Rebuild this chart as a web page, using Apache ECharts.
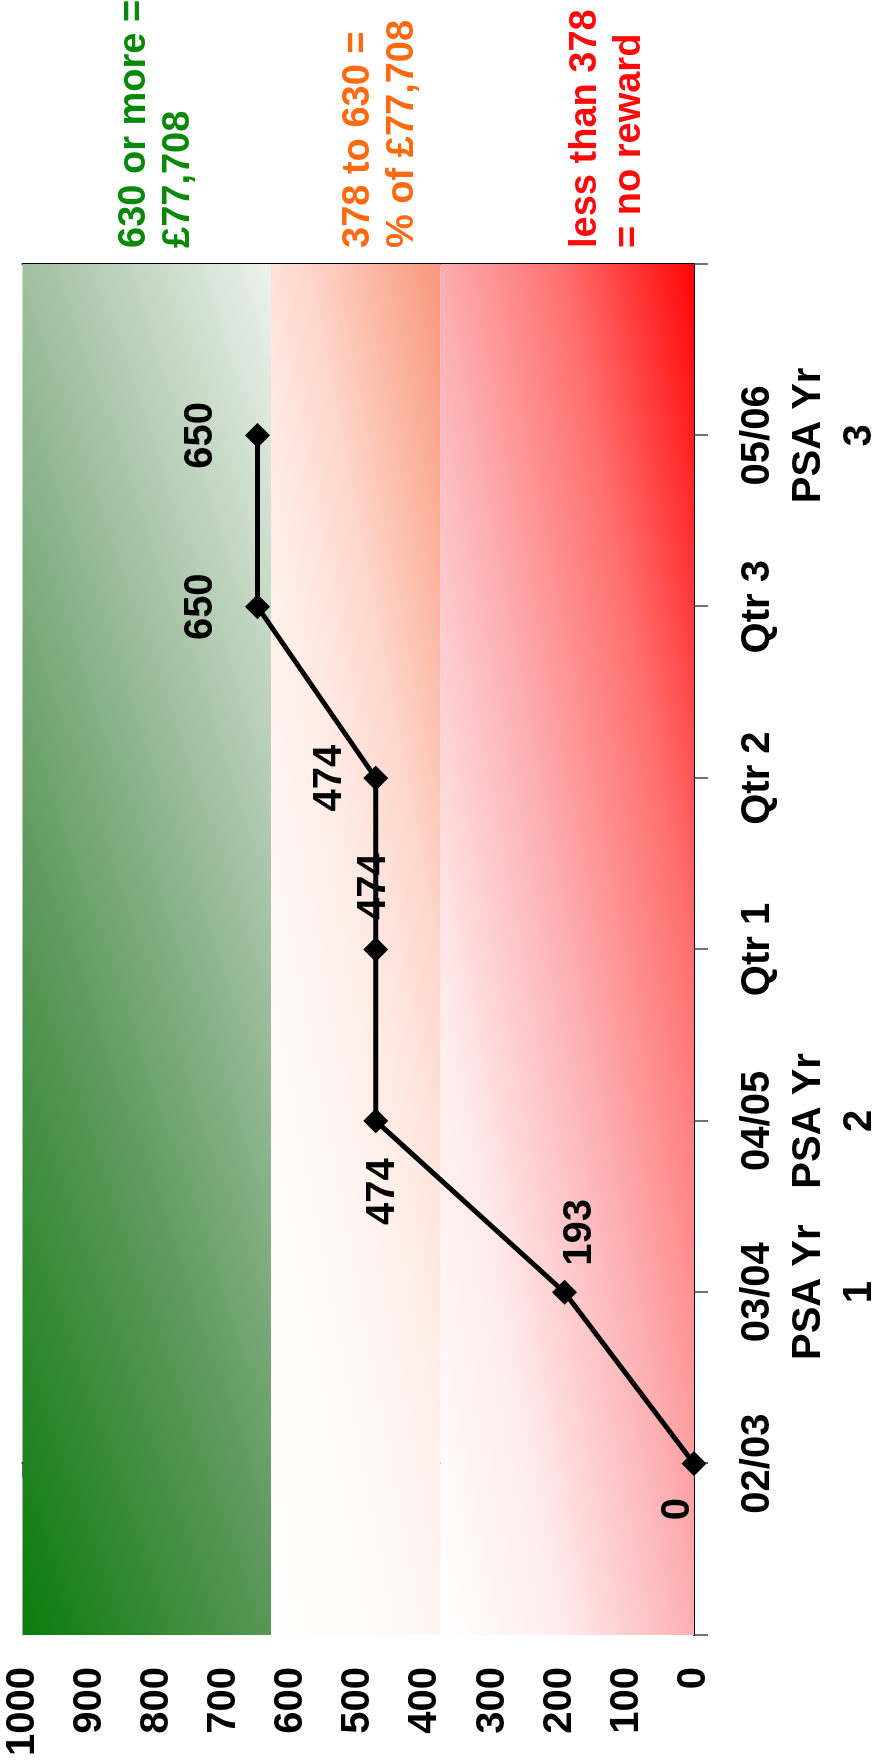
<!DOCTYPE html>
<html>
<head>
<meta charset="utf-8">
<script src="https://cdn.jsdelivr.net/npm/echarts@6/dist/echarts.min.js"></script>
<style>
  html, body { margin: 0; padding: 0; background: #fff; }
  #page { position: relative; width: 885px; height: 1764px; overflow: hidden; background: #fff; }
  #chart { position: absolute; left: 0; top: 0; width: 1764px; height: 885px;
           transform-origin: 0 0; transform: translate(0, 1764px) rotate(-90deg); }
</style>
</head>
<body>
<div id="page"><div id="chart"></div></div>
<script>
// ---- data ----
const categories = ['02/03', '03/04\nPSA Yr\n1', '04/05\nPSA Yr\n2', 'Qtr 1', 'Qtr 2', 'Qtr 3', '05/06\nPSA Yr\n3'];
const values = [0, 193, 474, 474, 474, 650, 650];
const thresholds = [0, 378, 630, 1000];
const notes = ['630 or more =\n£77,708', '378 to 630 =\n% of £77,708', 'less than 378\n= no reward'];

// ---- layout / style (chart drawn unrotated, then page-rotated) ----
const W = 1764, H = 885;
const G = { left: 129, right: 264, top: 22.5, bottom: 182.3 };
const plotW = W - G.left - G.right, plotH = H - G.top - G.bottom;
const FONT = '"Liberation Sans", Arial, sans-serif';
const noteColors = ['#0a880a', '#ff6a10', '#ff0a0a'];
const noteTop = [113, 337, 564];
const labelPlace = [
  { position: 'left', distance: 22, offset: [0, -16] },
  { position: 'right', distance: 14, offset: [0, 16] },
  { position: 'left', distance: 25, offset: [0, 7] },
  { position: 'right', distance: 17, offset: [0, -2] },
  { position: 'top', distance: 13 },
  { position: 'top', distance: 24 },
  { position: 'top', distance: 24 }
];

function diagGrad(a, b, w, h, stops) {
  const S = a * a / (w * w) + b * b / (h * h);
  return new echarts.graphic.LinearGradient(0, 0, a / (w * w * S), b / (h * h * S),
    stops.map(s => ({ offset: s[0], color: s[1] })));
}
const bandH = i => (thresholds[i + 1] - thresholds[i]) / 1000 * plotH;
const bandFills = [
  diagGrad(0.5, 0.5, plotW, bandH(0), [[0, '#ffffff'], [0.25, '#ffeaea'], [0.5, '#fdb0b3'], [0.75, '#ff7070'], [1, '#ff0a0a']]),
  diagGrad(0.6, 0.4, plotW, bandH(1), [[0, '#ffffff'], [0.35, '#fff8f5'], [0.55, '#ffeae3'], [0.7, '#fed6ca'], [0.85, '#fcb8a5'], [1, '#f99a80']]),
  diagGrad(0.65, 0.35, plotW, bandH(2), [[0, '#0b7b0b'], [0.38, '#5e995e'], [0.7, '#a8c4a8'], [1, '#e9f1e9']])
];

const chart = echarts.init(document.getElementById('chart'), null, { width: W, height: H });
chart.setOption({
  animation: false,
  backgroundColor: '#fff',
  grid: { left: G.left, right: G.right, top: G.top, bottom: G.bottom, containLabel: false },
  xAxis: {
    type: 'value', min: -1, max: categories.length, interval: 1,
    axisLine: { show: true, lineStyle: { color: '#000', width: 2 } },
    axisTick: { show: true, length: 14, lineStyle: { color: '#444', width: 1.5 } },
    splitLine: { show: false },
    axisLabel: {
      margin: 38, fontSize: 40, fontWeight: 'bold', fontFamily: FONT, color: '#000', lineHeight: 51,
      formatter: v => (categories[v] !== undefined ? categories[v] : '')
    }
  },
  yAxis: [{
    type: 'value', min: 0, max: 1000, interval: 100, position: 'left',
    axisLine: { show: true, lineStyle: { color: '#000', width: 2 } },
    axisTick: { show: true, length: 14, lineStyle: { color: '#444', width: 1.5 } },
    splitLine: { show: false },
    axisLabel: { margin: 32, fontSize: 40, fontWeight: 'bold', fontFamily: FONT, color: '#000',
                 formatter: v => String(v) }
  }, {
    type: 'value', min: 0, max: 1000, interval: 100, position: 'right',
    axisLine: { show: true, lineStyle: { color: '#000', width: 2 } },
    axisTick: { show: false }, axisLabel: { show: false }, splitLine: { show: false }
  }],
  graphic: notes.map((t, i) => ({
    type: 'text', x: 1516, y: noteTop[i], silent: true,
    style: { text: t, fill: noteColors[i], fontSize: 38, fontWeight: 'bold', fontFamily: FONT,
             lineHeight: 44, align: 'left', verticalAlign: 'top' }
  })),
  series: [{
    type: 'line', data: [], z: 1, silent: true,
    markArea: {
      silent: true, label: { show: false },
      data: bandFills.map((f, i) => [
        { yAxis: thresholds[i], itemStyle: { color: f, borderWidth: 0 } },
        { yAxis: thresholds[i + 1] }
      ])
    }
  }, {
    type: 'line', z: 5, clip: false,
    data: values.map((v, i) => ({ value: [i, v], label: labelPlace[i] })),
    lineStyle: { color: '#000', width: 5 },
    itemStyle: { color: '#000' },
    symbol: 'diamond', symbolSize: 25,
    label: { show: true, formatter: p => String(p.value[1]), fontSize: 40, fontWeight: 'bold', fontFamily: FONT, color: '#000' }
  }]
});
</script>
</body>
</html>
